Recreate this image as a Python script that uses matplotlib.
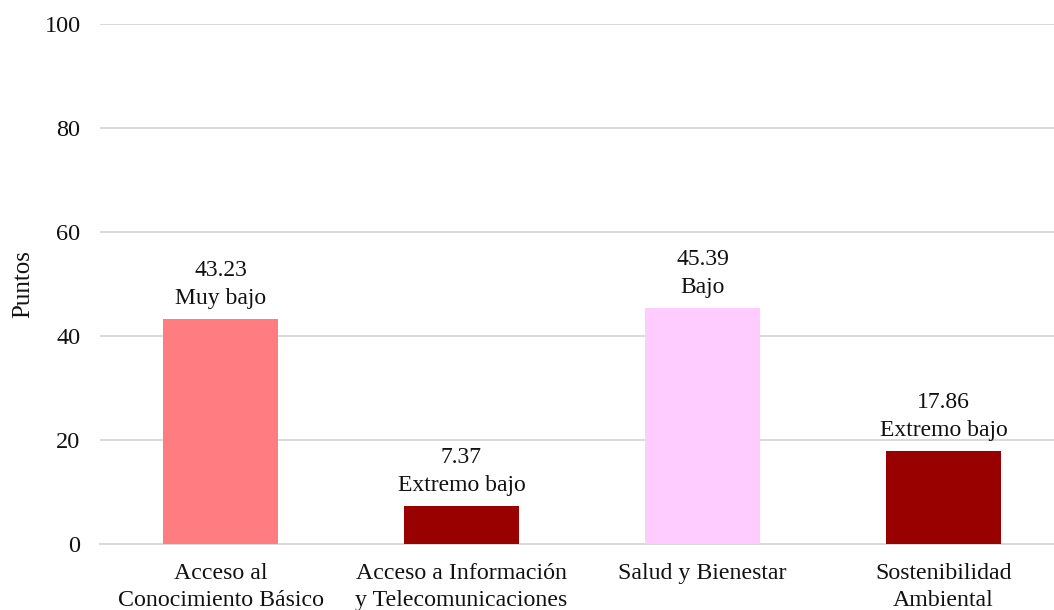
import matplotlib
matplotlib.use("Agg")
import matplotlib.pyplot as plt

categories = ["Acceso al\nConocimiento Básico", "Acceso a Información\ny Telecomunicaciones",
              "Salud y Bienestar", "Sostenibilidad\nAmbiental"]
values = [43.23, 7.37, 45.39, 17.86]
levels = ["Muy bajo", "Extremo bajo", "Bajo", "Extremo bajo"]
colors = ["#FF7C80", "#990000", "#FFCCFF", "#990000"]
yticks = [0, 20, 40, 60, 80, 100]

plt.rcParams['font.family'] = ['Liberation Serif', 'DejaVu Serif']

fig = plt.figure(figsize=(10.54, 6.10), dpi=100)
ax = fig.add_axes([100/1054, 66/610, 964/1054, 520/610])

x = list(range(len(categories)))
ax.bar(x, values, width=0.477, color=colors, zorder=3)
for xi, v, lv in zip(x, values, levels):
    ax.annotate(f"{v:.2f}\n{lv}", (xi, v), xytext=(0, 7), textcoords="offset points",
                ha="center", va="bottom", fontsize=17, color="#111111", linespacing=1.45)

ax.set_xlim(-0.5, 3.5)
ax.set_ylim(0, 100)
ax.set_yticks(yticks)
ax.set_yticklabels([str(t) for t in yticks], fontsize=17.5)
ax.set_xticks(x)
ax.set_xticklabels(categories, fontsize=17.2, linespacing=1.35)
ax.tick_params(axis='both', length=0, colors="#111111")
ax.tick_params(axis='y', pad=14)
ax.tick_params(axis='x', pad=14)
ax.grid(axis='y', color="#D9D9D9", linewidth=1.4, zorder=0)
for s in ["top", "right", "left"]:
    ax.spines[s].set_visible(False)
ax.spines["bottom"].set_color("#D9D9D9")
ax.spines["bottom"].set_linewidth(1.4)
ax.set_ylabel("Puntos", fontsize=18, color="#111111")
ax.yaxis.set_label_coords(-66/964, 0.5)

fig.savefig("out.png", dpi=100)
